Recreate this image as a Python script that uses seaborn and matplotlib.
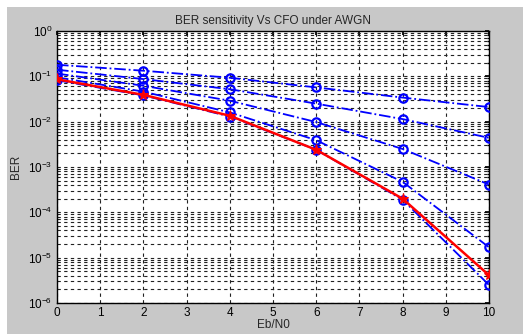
import numpy as np
import pandas as pd
import matplotlib
matplotlib.use("Agg")
import matplotlib.pyplot as plt
import matplotlib.ticker as mticker
from matplotlib.patches import Rectangle
import seaborn as sns

# Eb/N0 points (dB)
ebn0 = [0, 2, 4, 6, 8, 10]

# BER with carrier frequency offset (largest offset first)
ber_cfo1 = [0.18, 0.133, 0.093, 0.057, 0.034, 0.021]
ber_cfo2 = [0.14, 0.087, 0.052, 0.025, 0.0114, 0.0044]
ber_cfo3 = [0.115, 0.062, 0.029, 0.0098, 0.0025, 0.00041]
ber_cfo4 = [0.095, 0.046, 0.016, 0.0039, 0.00047, 1.7e-5]
ber_cfo5 = [0.082, 0.038, 0.013, 0.0024, 0.00019, 2.5e-6]

# BER without offset
ber_awgn = [0.086, 0.039, 0.0135, 0.0024, 0.0002, 4.1e-6]

# y decades shown on the axis
y_decades = [1e-6, 1e-5, 1e-4, 1e-3, 1e-2, 1e-1, 1e0]

title = "BER sensitivity Vs CFO under AWGN"
xlabel = "Eb/N0"
ylabel = "BER"

sns.set_theme(style="white")
plt.rcParams["font.family"] = ["Liberation Sans", "DejaVu Sans"]
plt.rcParams["mathtext.fontset"] = "custom"
plt.rcParams["mathtext.rm"] = "Liberation Sans"
plt.rcParams["mathtext.it"] = "Liberation Sans"

W, H = 523, 334
fig = plt.figure(figsize=(W / 100, H / 100), dpi=100, facecolor="white")
fig.patches.append(Rectangle((7 / W, 0), 1, 1 - 7 / H, transform=fig.transFigure,
                             facecolor="#c8c8c8", edgecolor="none", zorder=-10))

ax = fig.add_axes([57 / W, 1 - 303 / H, (489 - 57) / W, (303 - 31) / H])
ax.set_facecolor("white")

cfo_series = [ber_cfo1, ber_cfo2, ber_cfo3, ber_cfo4, ber_cfo5]
for s in cfo_series:
    df = pd.DataFrame({"x": ebn0, "y": s})
    sns.lineplot(data=df, x="x", y="y", ax=ax, color="#0000ff", linestyle="-.",
                 linewidth=1.3, marker="o", markersize=6, markerfacecolor="none",
                 markeredgecolor="#0000ff", markeredgewidth=1.6, zorder=3)

df_r = pd.DataFrame({"x": ebn0, "y": ber_awgn})
sns.lineplot(data=df_r, x="x", y="y", ax=ax, color="#ff0000", linestyle="-",
             linewidth=1.8, marker="*", markersize=8, markerfacecolor="#ff0000",
             markeredgecolor="#ff0000", zorder=4)

ax.set_yscale("log")
ax.set_xlim(0, 10)
ax.set_ylim(1e-6, 1)
ax.set_xticks(range(0, 11))
ax.yaxis.set_major_locator(mticker.FixedLocator(y_decades))
ax.yaxis.set_major_formatter(mticker.LogFormatterSciNotation())
minor = [m * d for d in y_decades[:-1] for m in range(2, 10)]
ax.yaxis.set_minor_locator(mticker.FixedLocator(minor))
ax.yaxis.set_minor_formatter(mticker.NullFormatter())

ax.grid(True, which="major", axis="both", color="#222222", linestyle=(0, (3, 3)), linewidth=0.8)
ax.grid(True, which="minor", axis="y", color="#222222", linestyle=(0, (3, 3)), linewidth=0.8)

ax.tick_params(axis="both", which="both", direction="in", labelsize=8.5, colors="black",
               length=3, top=True, right=True)
ax.tick_params(axis="x", pad=3)
ax.tick_params(axis="y", which="minor", length=1.5)
for sp in ax.spines.values():
    sp.set_color("black")
    sp.set_linewidth(1.0)

ax.set_title(title, fontsize=8.5, pad=5)
ax.set_xlabel(xlabel, fontsize=8.5, labelpad=0)
ax.set_ylabel(ylabel, fontsize=8.5, labelpad=4)

fig.savefig("out.png", dpi=100, facecolor=fig.get_facecolor())
